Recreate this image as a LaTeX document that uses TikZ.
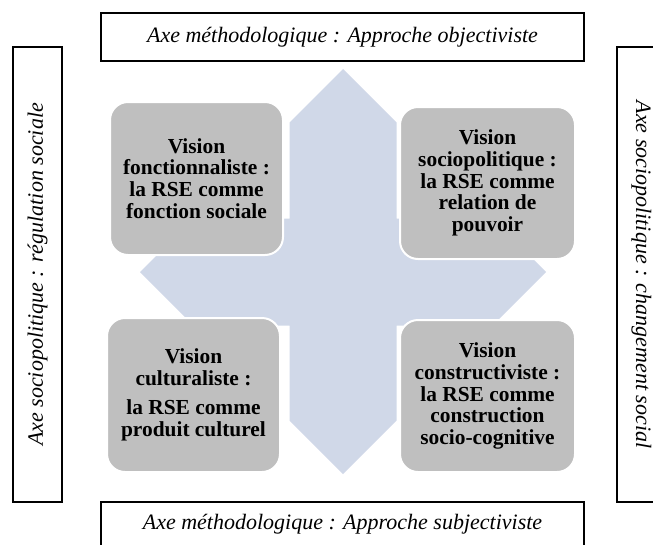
\documentclass[tikz,border=0pt]{standalone}
\usepackage{fontspec}
\newfontfamily\boxfont{Liberation Serif}
\definecolor{visiongray}{RGB}{191,191,191}
\definecolor{crossblue}{RGB}{208,216,232}
\begin{document}
\begin{tikzpicture}[x=1pt,y=-1pt,
  vision/.style={rounded corners=18pt, fill=visiongray, draw=white, line width=2pt,
    align=center, inner sep=0pt,
    font=\boxfont\bfseries\fontsize{21.4}{21.8}\selectfont},
  axisbox/.style={draw=black, line width=1.5pt, fill=white, inner sep=0pt,
    font=\boxfont\itshape\fontsize{22}{24}\selectfont}]
\useasboundingbox (0,0) rectangle (653,544);
\clip (0,0) rectangle (653,544);

% four-headed arrow behind the quadrants
\fill[crossblue] (343,69) -- (396.5,122.5) -- (396.5,218.5) -- (492.5,218.5)
  -- (546,272) -- (492.5,325.5) -- (396.5,325.5) -- (396.5,420.5)
  -- (343,474) -- (289.5,420.5) -- (289.5,325.5) -- (193.5,325.5)
  -- (140,272) -- (193.5,218.5) -- (289.5,218.5) -- (289.5,122.5) -- cycle;

% axes
\node[axisbox, minimum width=483pt, minimum height=48pt] (top) at (342.5,37)
  {Axe méthodologique : Approche objectiviste};
\node[axisbox, minimum width=483pt, minimum height=44pt] (bottom) at (342.5,524)
  {Axe méthodologique : Approche subjectiviste};
\node[axisbox, rotate=90, minimum width=455pt, minimum height=49pt] (left) at (37.5,274.5)
  {Axe sociopolitique : régulation sociale};
\node[axisbox, rotate=-90, minimum width=455pt, minimum height=49pt] (right) at (641.5,274.5)
  {Axe sociopolitique : changement social};

% quadrants
\node[vision, minimum width=173pt, minimum height=153pt] (tl) at (196.5,178.5)
  {Vision\\ fonctionnaliste :\\ la RSE comme\\ fonction sociale};
\node[vision, minimum width=175pt, minimum height=152pt] (tr) at (487.5,183)
  {Vision\\ sociopolitique :\\ la RSE comme\\ relation de\\ pouvoir};
\node[vision, minimum width=173pt, minimum height=154pt] (bl) at (193.5,395)
  {Vision\\ culturaliste :\\[7pt] la RSE comme\\ produit culturel};
\node[vision, minimum width=175pt, minimum height=152pt] (br) at (487.5,396)
  {Vision\\ constructiviste :\\ la RSE comme\\ construction\\ socio-cognitive};
\end{tikzpicture}
\end{document}
